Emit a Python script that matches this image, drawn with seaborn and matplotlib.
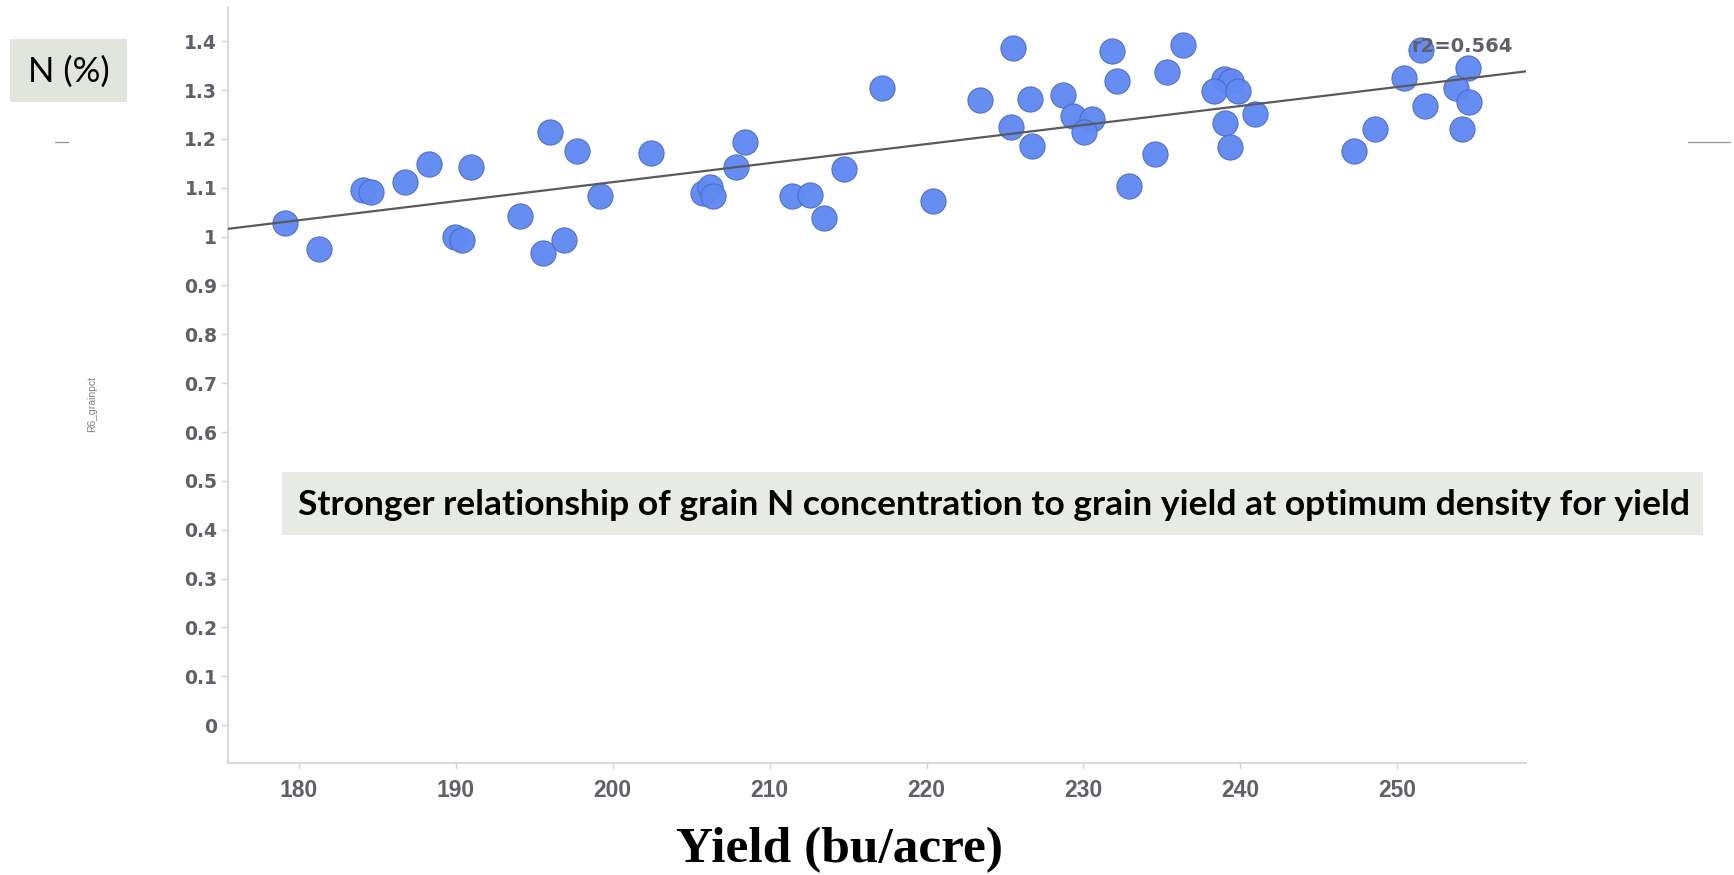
import matplotlib
matplotlib.use("Agg")
import matplotlib.pyplot as plt
from matplotlib.patches import Rectangle
from matplotlib.lines import Line2D
import seaborn as sns
import pandas as pd

# Grain yield (bu/acre) and grain N concentration (%) per plot at R6
yield_bu = [179.13, 181.28, 184.09, 184.62, 186.74, 188.28, 190.96, 189.94, 190.40,
            194.06, 195.55, 196.01, 196.92, 197.74, 199.19, 202.41, 205.77, 206.21,
            206.36, 207.85, 208.46, 211.43, 212.58, 213.45, 214.75, 217.14, 220.43,
            223.38, 225.48, 225.36, 226.60, 226.75, 228.72, 229.34, 230.55, 230.05,
            231.80, 232.12, 232.89, 234.53, 235.32, 236.33, 238.95, 239.37, 238.31,
            239.86, 240.94, 239.00, 239.31, 247.25, 248.57, 250.43, 251.49, 251.79,
            254.52, 253.77, 254.58, 254.09]
grain_n = [1.028, 0.974, 1.096, 1.091, 1.112, 1.149, 1.143, 1.000, 0.993,
           1.043, 0.967, 1.214, 0.993, 1.176, 1.084, 1.172, 1.090, 1.101,
           1.084, 1.142, 1.193, 1.083, 1.086, 1.038, 1.139, 1.305, 1.073,
           1.279, 1.387, 1.225, 1.282, 1.185, 1.290, 1.246, 1.241, 1.215,
           1.379, 1.319, 1.103, 1.170, 1.336, 1.393, 1.322, 1.318, 1.299,
           1.299, 1.251, 1.232, 1.183, 1.176, 1.220, 1.324, 1.382, 1.268,
           1.346, 1.304, 1.276, 1.220]

y_ticks = [0.0, 0.1, 0.2, 0.3, 0.4, 0.5, 0.6, 0.7, 0.8, 0.9, 1.0, 1.1, 1.2, 1.3, 1.4]
y_tick_labels = ["0", "0.1", "0.2", "0.3", "0.4", "0.5", "0.6", "0.7", "0.8", "0.9",
                 "1", "1.1", "1.2", "1.3", "1.4"]
x_ticks = [180, 190, 200, 210, 220, 230, 240, 250]
r2_text = "r2=0.564"
note_text = "Stronger relationship of grain N concentration to grain yield at optimum density for yield"

df = pd.DataFrame({"Yield": yield_bu, "R6_grainpct": grain_n})

sns.set_theme(style="white")
W, H = 1734, 875
fig = plt.figure(figsize=(W / 100, H / 100), dpi=100)
fig.patch.set_facecolor("white")

def fx(px):
    return px / W

def fy(py):
    return 1 - py / H

ax = fig.add_axes([fx(228.3), fy(763.3), fx(1526) - fx(228.3), fy(7) - fy(763.3)])
ax.set_facecolor("white")
ax.set_xlim(175.5, 258.2)
ax.set_ylim(-0.078, 1.470)

sns.scatterplot(data=df, x="Yield", y="R6_grainpct", ax=ax, s=330,
                color="#6089F2", edgecolor="#4a68c4", linewidth=0.7,
                alpha=0.97, zorder=3, legend=False)
sns.regplot(data=df, x="Yield", y="R6_grainpct", ax=ax, scatter=False, ci=None,
            truncate=False, line_kws={"color": "#5a5a5e", "lw": 1.6, "zorder": 4})

ax.set_xlim(175.5, 258.2)
ax.set_ylim(-0.078, 1.470)
ax.set_xlabel("")
ax.set_ylabel("")

spine_c = "#d2d2dd"
for side in ["top", "right"]:
    ax.spines[side].set_visible(False)
for side in ["left", "bottom"]:
    ax.spines[side].set_color(spine_c)
    ax.spines[side].set_linewidth(1.2)

ax.set_yticks(y_ticks)
ax.set_yticklabels(y_tick_labels)
ax.set_xticks(x_ticks)
ax.set_xticklabels([str(t) for t in x_ticks])
ax.tick_params(axis="y", direction="out", length=5, width=1, color=spine_c, pad=3,
               left=True, labelcolor="#5f6068")
ax.tick_params(axis="x", direction="out", length=4, width=1, color=spine_c, pad=7,
               bottom=True, labelcolor="#5f6068")
for lab in ax.get_yticklabels():
    lab.set_fontfamily("DejaVu Sans")
    lab.set_fontweight("bold")
    lab.set_fontsize(13.5)
for lab in ax.get_xticklabels():
    lab.set_fontfamily("Liberation Sans")
    lab.set_fontweight("bold")
    lab.set_fontsize(16.5)

ax.text(250.89, 1.3896, r2_text, ha="left", va="center", fontsize=14,
        fontweight="bold", family="DejaVu Sans", color="#5f6068", zorder=6)

# Header box with the quantity name
fig.patches.append(Rectangle((fx(10), fy(102)), fx(127) - fx(10), fy(39) - fy(102),
                             transform=fig.transFigure, facecolor="#e2e5de",
                             edgecolor="none", zorder=0))
fig.text(fx(68.5), fy(72), "N (%)", ha="center", va="center", fontsize=25,
         family="Lato", color="black")

# Small grey dashes at left and right margins
fig.add_artist(Line2D([fx(55.5), fx(68)], [fy(141.7), fy(141.7)],
                      transform=fig.transFigure, color="#9a9a9a", lw=1))
fig.add_artist(Line2D([fx(1687.5), fx(1729.6)], [fy(141.7), fy(141.7)],
                      transform=fig.transFigure, color="#9a9a9a", lw=1))

fig.text(fx(91.7), fy(404), "R6_grainpct", rotation=90, ha="center", va="center",
         fontsize=7.5, family="Liberation Sans", color="#808080")

# Annotation banner
fig.patches.append(Rectangle((fx(282), fy(535)), fx(1703) - fx(282), fy(472) - fy(535),
                             transform=fig.transFigure, facecolor="#e8eae6",
                             edgecolor="none", zorder=5))
note = fig.text(fx(298), fy(505), note_text, ha="left", va="center", fontsize=24,
                family="Lato", fontweight="bold", color="black", zorder=6)
fig.canvas.draw()
w = note.get_window_extent().width
note.set_fontsize(24 * (1690 - 298) / w)

fig.text(fx(840), fy(861.7), "Yield (bu/acre)", ha="center", va="baseline",
         fontsize=37, family="Liberation Serif", fontweight="bold", color="black")

fig.savefig("out.png", dpi=100, facecolor="white")
